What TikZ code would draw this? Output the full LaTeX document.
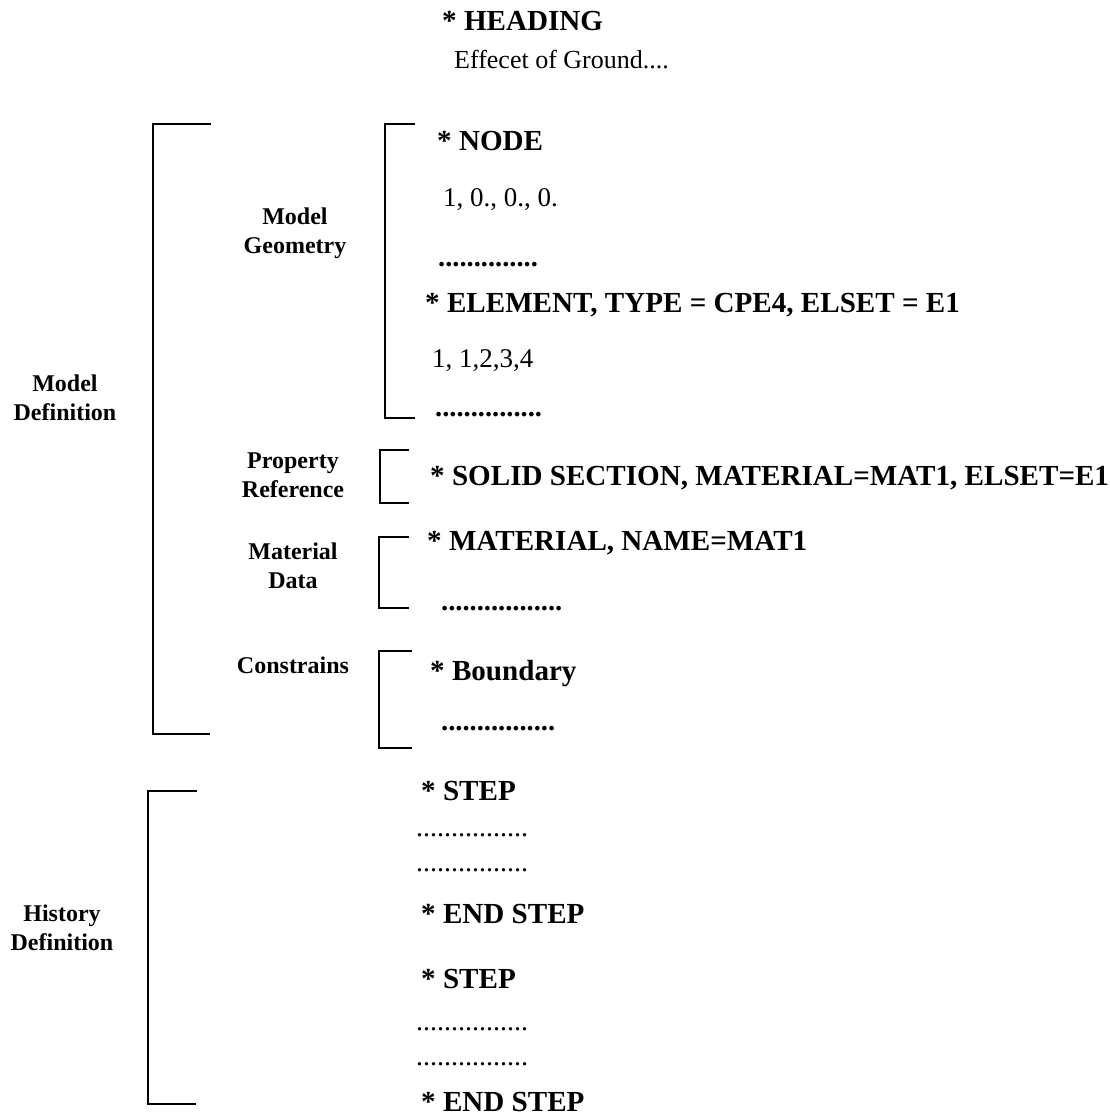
\documentclass[tikz,border=0pt]{standalone}
\usepackage{fontspec}
\setmainfont{Liberation Serif}
\begin{document}
\begin{tikzpicture}[x=1pt,y=-1pt,
  code/.style={font=\fontsize{29.1}{34}\selectfont\bfseries, anchor=base west, inner sep=0pt},
  val/.style={font=\fontsize{27}{32}\selectfont, anchor=base west, inner sep=0pt},
  dotsb/.style={font=\fontsize{28.5}{34}\selectfont\bfseries, anchor=base west, inner sep=0pt},
  dotsr/.style={font=\fontsize{28}{34}\selectfont, anchor=base west, inner sep=0pt},
  lab/.style={font=\fontsize{24}{28.5}\selectfont\bfseries, anchor=base, align=center, inner sep=0pt},
  brk/.style={line width=2.4pt, line cap=butt, line join=miter}]
\useasboundingbox (0,0) rectangle (1109,1117);

% heading
\node[code] (head) at (442,30) {* HEADING};
\node[val, font=\fontsize{26}{31}\selectfont] (title) at (454,68) {Effecet of Ground....};

% model geometry
\node[code] (nodekw) at (437,150) {* NODE};
\node[val] (nodeval) at (443,206) {1, 0., 0., 0.};
\node[dotsb] (dots1) at (438,266) {..............};
\node[code] (elemkw) at (425,312) {* ELEMENT, TYPE = CPE4, ELSET = E1};
\node[val] (elemval) at (432,367) {1, 1,2,3,4};
\node[dotsb] (dots2) at (435,416) {...............};

% property
\node[code] (solid) at (430,485) {* SOLID SECTION, MATERIAL=MAT1, ELSET=E1};
% material
\node[code] (mat) at (427,550) {* MATERIAL, NAME=MAT1};
\node[dotsb] (dots3) at (441,610) {.................};
% constraints
\node[code] (bnd) at (430,680) {* Boundary};
\node[dotsb] (dots4) at (441,730) {................};

% history
\node[code] (step1) at (421,800) {* STEP};
\node[dotsr] (dots5) at (416,836) {................};
\node[dotsr] (dots6) at (416,871) {................};
\node[code] (end1) at (421,923) {* END STEP};
\node[code] (step2) at (421,988) {* STEP};
\node[dotsr] (dots7) at (416,1030) {................};
\node[dotsr] (dots8) at (416,1065) {................};
\node[code] (end2) at (421,1111) {* END STEP};

% labels (anchor base = baseline of last line)
\node[lab] (lgeom) at (295,253) {Model\\Geometry};
\node[lab] (lprop) at (293,497) {Property\\Reference};
\node[lab] (lmat) at (293,588) {Material\\Data};
\node[lab] (lcons) at (293,673) {Constrains};
\node[lab] (lmodel) at (65,420) {Model\\Definition};
\node[lab] (lhist) at (62,950) {History\\Definition};

% brackets
\draw[brk] (211,124) -- (153,124) -- (153,734) -- (210,734);
\draw[brk] (415,124) -- (385,124) -- (385,418) -- (415,418);
\draw[brk] (409,450) -- (380,450) -- (380,503) -- (409,503);
\draw[brk] (409,537) -- (379,537) -- (379,608) -- (409,608);
\draw[brk] (412,651) -- (379,651) -- (379,748) -- (412,748);
\draw[brk] (197,791) -- (148,791) -- (148,1104) -- (196,1104);
\end{tikzpicture}
\end{document}
